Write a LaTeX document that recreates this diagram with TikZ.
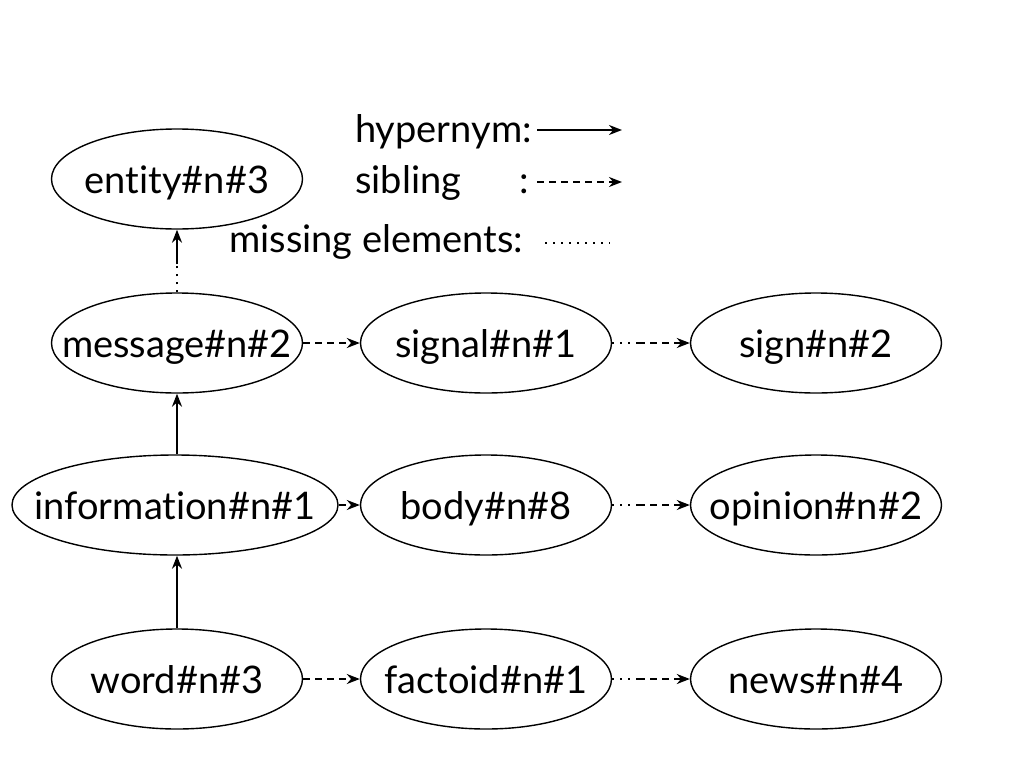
\documentclass[tikz,border=0pt]{standalone}
\usepackage{fontspec}
\setmainfont{Lato}[Ligatures=NoCommon]
\usetikzlibrary{shapes.geometric,arrows.meta}
\newcommand\syntxt[1]{\makebox[0pt][c]{#1}}
\begin{document}
\begin{tikzpicture}[x=1pt,y=-1pt,line cap=butt,>={Stealth[length=13pt,width=10pt]},font=\fontsize{38}{42}\selectfont]
	\tikzset{syn/.style={draw,ellipse,line width=1.4pt,minimum width=251pt,minimum height=100pt,inner sep=0pt,
			text height=34pt,text depth=6pt},
		hyp/.style={->,line width=2.3pt},
		sib/.style={->,line width=2pt,dash pattern=on 7pt off 5pt},
		miss/.style={line width=2pt,dash pattern=on 2pt off 6pt},
		lab/.style={anchor=base west,inner sep=0pt}}
	\useasboundingbox (0,0) rectangle (1024,768);
	% legend
	\node[lab] (lhyp) at (355,142) {hypernym:};
	\node[lab] (lsib) at (355,193) {sibling};
	\node[lab] (lcol) at (519,193) {:};
	\node[lab] (lmis) at (229,252) {missing elements:};
	\coordinate (h1) at (537,130); \coordinate (h2) at (622,130);
	\coordinate (s1) at (537,182); \coordinate (s2) at (622,182);
	\coordinate (m1) at (545,243); \coordinate (m2) at (610,243);
	\draw[hyp] (h1)--(h2);
	\draw[sib] (s1)--(s2);
	\draw[miss] (m1)--(m2);
	% synsets
	\node[syn] (entity) at (177,179) {\syntxt{entity\#n\#3}};
	\node[syn] (message) at (177,343) {\syntxt{message\#n\#2}};
	\node[syn] (signal) at (486,343) {\syntxt{signal\#n\#1}};
	\node[syn] (sign) at (816,343) {\syntxt{sign\#n\#2}};
	\node[syn,minimum width=326pt] (information) at (175,505) {\syntxt{information\#n\#1}};
	\node[syn] (body) at (486,505) {\syntxt{body\#n\#8}};
	\node[syn] (opinion) at (816,505) {\syntxt{opinion\#n\#2}};
	\node[syn] (word) at (177,679) {\syntxt{word\#n\#3}};
	\node[syn] (factoid) at (486,679) {\syntxt{factoid\#n\#1}};
	\node[syn] (news) at (816,679) {\syntxt{news\#n\#4}};
	% hypernyms
	\draw[hyp] (word.north)--(word.north|-information.south);
	\draw[hyp] (information.north-|message)--(message);
	\draw[miss] (message.north)--++(0,-28) coordinate (e1);
	\draw[hyp] (e1)--(entity);
	% siblings
	\draw[sib] (message)--(signal);
	\draw[sib] (information)--(body);
	\draw[sib] (word)--(factoid);
	\foreach \a/\b in {signal/sign,body/opinion,factoid/news}{
		\draw[miss] (\a.east)--++(26,0) coordinate (\a-m);
		\draw[sib] (\a-m)--(\b);}
\end{tikzpicture}
\end{document}
